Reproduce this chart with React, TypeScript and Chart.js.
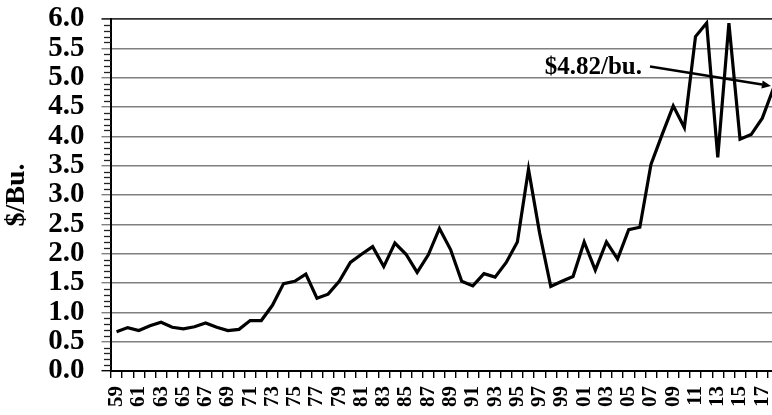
import React, { useEffect, useRef } from 'react';
import { Chart, registerables } from 'chart.js';

Chart.register(...registerables);

const yearLabels = [
  '59', '60', '61', '62', '63', '64', '65', '66', '67', '68',
  '69', '70', '71', '72', '73', '74', '75', '76', '77', '78',
  '79', '80', '81', '82', '83', '84', '85', '86', '87', '88',
  '89', '90', '91', '92', '93', '94', '95', '96', '97', '98',
  '99', '00', '01', '02', '03', '04', '05', '06', '07', '08',
  '09', '10', '11', '12', '13', '14', '15', '16', '17', '18',
];

const prices = [
  0.67, 0.74, 0.69, 0.77, 0.83, 0.745, 0.72, 0.755, 0.82, 0.745,
  0.69, 0.71, 0.86, 0.86, 1.12, 1.49, 1.53, 1.65, 1.24, 1.31,
  1.53, 1.85, 1.99, 2.12, 1.78, 2.18, 1.99, 1.68, 1.98, 2.43,
  2.07, 1.53, 1.45, 1.66, 1.6, 1.85, 2.2, 3.44, 2.35, 1.44,
  1.53, 1.61, 2.2, 1.72, 2.2, 1.91, 2.41, 2.45, 3.52, 4.03,
  4.52, 4.15, 5.7, 5.93, 3.64, 5.93, 3.95, 4.03, 4.31, 4.82,
];

const yTickValues = [0, 0.5, 1, 1.5, 2, 2.5, 3, 3.5, 4, 4.5, 5, 5.5, 6];
const minorStep = 0.1;
const annotationText = '$4.82/bu.';
const annotationStartValue = 5.19;
const annotationTipValue = 4.86;
const annotationTextValue = 5.06;

const SERIF = '"Liberation Serif", "Times New Roman", serif';

const minorTicksPlugin = {
  id: 'minorTicks',
  afterDraw(chart: any) {
    const y = chart.scales.y;
    const ctx = chart.ctx;
    const left = chart.chartArea.left;
    ctx.save();
    ctx.strokeStyle = '#222';
    ctx.lineWidth = 1.3;
    const max = yTickValues[yTickValues.length - 1];
    const n = Math.round(max / minorStep);
    for (let k = 0; k <= n; k++) {
      if (k % 5 === 0) continue;
      const py = Math.round(y.getPixelForValue(k * minorStep)) + 0.5;
      ctx.beginPath();
      ctx.moveTo(left - 7, py);
      ctx.lineTo(left, py);
      ctx.stroke();
    }
    ctx.restore();
  },
};

const annotationPlugin = {
  id: 'priceAnnotation',
  afterDatasetsDraw(chart: any) {
    const x = chart.scales.x;
    const y = chart.scales.y;
    const ctx = chart.ctx;
    const last = prices.length - 1;
    const sx = x.getPixelForValue(last - 11) - 1;
    const sy = y.getPixelForValue(annotationStartValue);
    const tx = x.getPixelForValue(last) - 2.5;
    const ty = y.getPixelForValue(annotationTipValue);
    ctx.save();
    ctx.fillStyle = '#000';
    ctx.strokeStyle = '#000';
    ctx.font = `bold 25px ${SERIF}`;
    ctx.textAlign = 'right';
    ctx.textBaseline = 'alphabetic';
    ctx.fillText(annotationText, sx - 8, y.getPixelForValue(annotationTextValue));
    const ang = Math.atan2(ty - sy, tx - sx);
    const headLen = 9;
    const headW = 4;
    const bx = tx - headLen * Math.cos(ang);
    const by = ty - headLen * Math.sin(ang);
    ctx.lineWidth = 2.4;
    ctx.beginPath();
    ctx.moveTo(sx, sy);
    ctx.lineTo(bx, by);
    ctx.stroke();
    ctx.beginPath();
    ctx.moveTo(tx, ty);
    ctx.lineTo(bx + headW * Math.sin(ang), by - headW * Math.cos(ang));
    ctx.lineTo(bx - headW * Math.sin(ang), by + headW * Math.cos(ang));
    ctx.closePath();
    ctx.fill();
    ctx.restore();
  },
};

export default function App() {
  const canvasRef = useRef<HTMLCanvasElement | null>(null);

  useEffect(() => {
    if (!canvasRef.current) return;
    const chart = new Chart(canvasRef.current, {
      type: 'line',
      data: {
        labels: yearLabels,
        datasets: [
          {
            data: prices,
            borderColor: '#000',
            borderWidth: 3.2,
            pointRadius: 0,
            tension: 0,
            fill: false,
          },
        ],
      },
      options: {
        animation: false,
        responsive: false,
        events: [],
        layout: { padding: { top: 19, left: 0, right: 0, bottom: 0 } },
        plugins: {
          legend: { display: false },
          tooltip: { enabled: false },
        },
        scales: {
          x: {
            type: 'category',
            offset: true,
            ticks: {
              autoSkip: false,
              maxRotation: 90,
              minRotation: 90,
              padding: 8,
              color: '#000',
              font: { family: SERIF, size: 21, weight: 'bold' },
              callback: (_v: any, i: number) => (i % 2 === 0 ? yearLabels[i] : ''),
            },
            grid: {
              offset: true,
              drawOnChartArea: false,
              drawTicks: true,
              tickLength: 7,
              color: '#000',
              lineWidth: 1.4,
            },
            border: { color: '#000', width: 2 },
            afterFit: (s: any) => {
              s.height = 44;
              s.paddingLeft = 0;
              s.paddingRight = 0;
            },
          },
          y: {
            min: 0,
            max: 6,
            afterBuildTicks: (s: any) => {
              s.ticks = yTickValues.map((v) => ({ value: v }));
            },
            ticks: {
              autoSkip: false,
              padding: 17,
              color: '#000',
              font: { family: SERIF, size: 29, weight: 'bold' },
              callback: (v: any) => Number(v).toFixed(1),
            },
            grid: {
              drawTicks: true,
              tickLength: 9.5,
              color: (c: any) => {
                const v = c.tick ? c.tick.value : 0;
                if (v >= 6) return '#333';
                if (v <= 0) return '#000';
                return '#808080';
              },
              lineWidth: (c: any) => {
                const v = c.tick ? c.tick.value : 0;
                return v >= 6 ? 1.8 : 1.4;
              },
            },
            border: { color: '#000', width: 2 },
            title: {
              display: true,
              text: '$/Bu.',
              color: '#000',
              font: { family: SERIF, size: 28, weight: 'bold' },
              padding: { top: 0, bottom: 0 },
            },
            afterFit: (s: any) => {
              s.width = 111;
              s.paddingTop = 0;
              s.paddingBottom = 0;
            },
          },
        },
      },
      plugins: [minorTicksPlugin, annotationPlugin],
    });
    return () => chart.destroy();
  }, []);

  return (
    <div
      style={{
        position: 'absolute',
        left: 0,
        top: 0,
        width: 772,
        height: 415,
        overflow: 'hidden',
        background: '#fff',
      }}
    >
      <canvas ref={canvasRef} width={779} height={415} style={{ display: 'block' }} />
    </div>
  );
}
